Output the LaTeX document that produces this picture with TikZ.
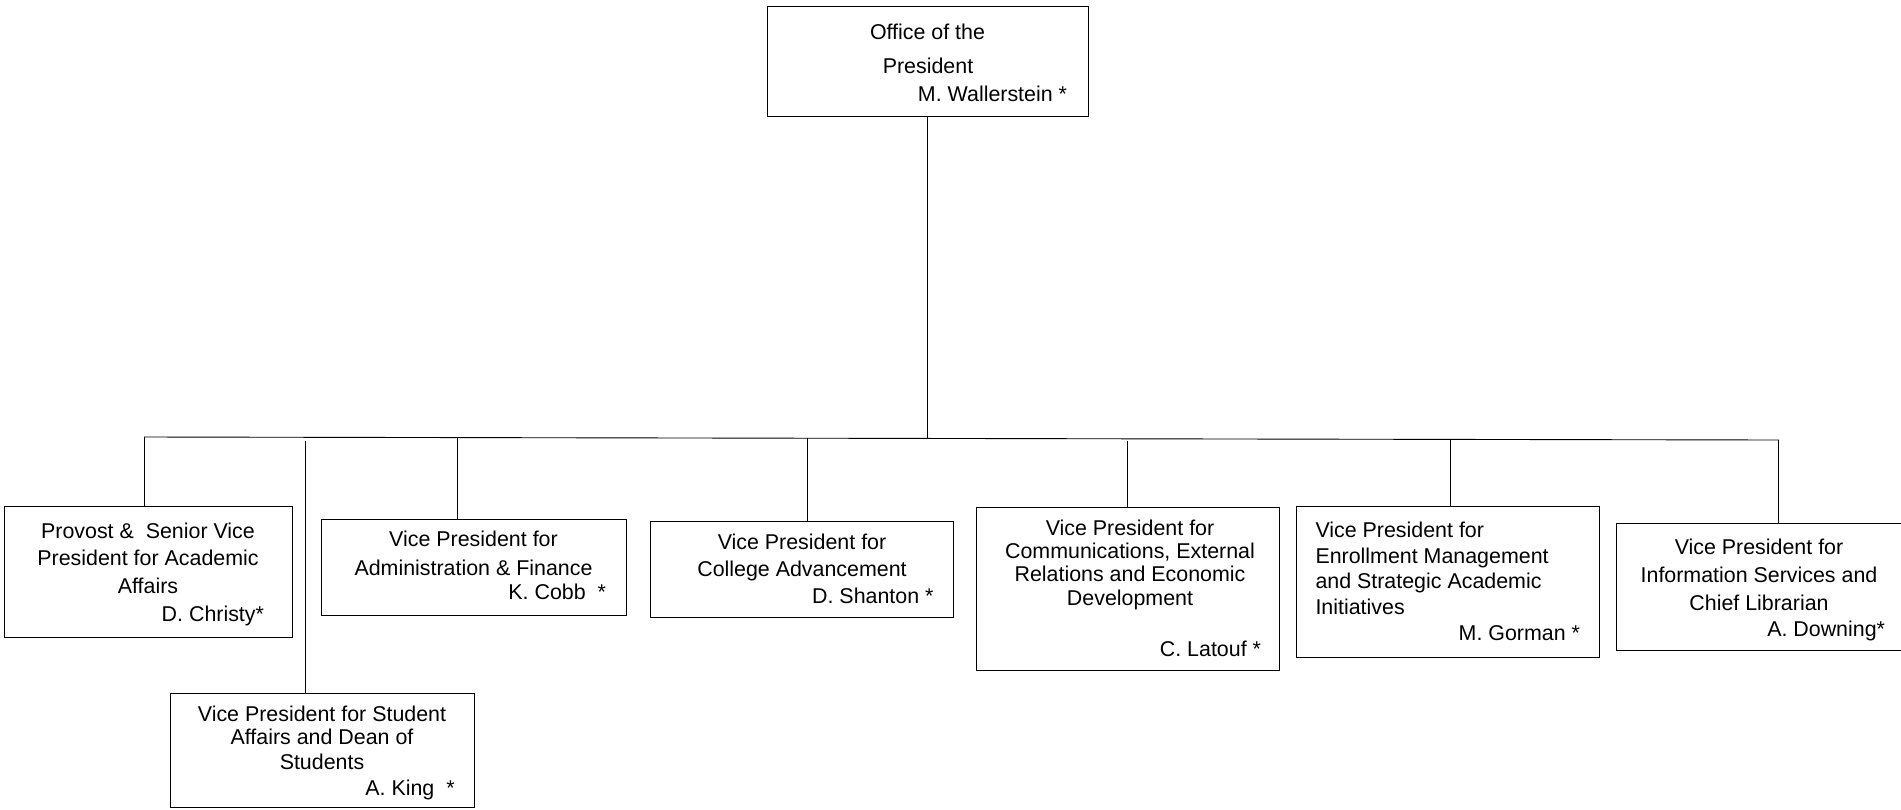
\documentclass[tikz,border=0pt]{standalone}
\usepackage{fontspec}
\setmainfont{Liberation Sans}
\begin{document}
\begin{tikzpicture}[x=1pt,y=-1pt,
 box/.style={draw, line width=0.95pt, inner sep=0pt, outer sep=0pt, anchor=north west},
 txt/.style={inner sep=0pt, outer sep=0pt, font=\fontsize{21.4}{26}\selectfont},
 ln/.style={line width=0.9pt}]
\clip (0,0) rectangle (1901,809);
% boxes
\node[box, minimum width=321pt, minimum height=110pt] (pres) at (767,6) {};
\node[box, minimum width=288pt, minimum height=131pt] (prov) at (4,506) {};
\node[box, minimum width=305pt, minimum height=96pt] (adm) at (321,519) {};
\node[box, minimum width=303pt, minimum height=96pt] (adv) at (650,521) {};
\node[box, minimum width=303pt, minimum height=163pt] (com) at (976,507) {};
\node[box, minimum width=303pt, minimum height=151pt] (enr) at (1296,506) {};
\node[box, minimum width=330pt, minimum height=127pt] (inf) at (1616,523) {};
\node[box, minimum width=304pt, minimum height=114pt] (kng) at (170,693) {};
% texts
\node[txt, anchor=base] (p1) at (927.5,39) {Office of the};
\node[txt, anchor=base] (p2) at (928,73) {President};
\node[txt, anchor=base east] (p3) at (1067,101) {M. Wallerstein *};

\node[txt, anchor=base] (v1) at (148,538.5) {Provost \&\ \ Senior Vice};
\node[txt, anchor=base] (v2) at (148,565) {President for Academic};
\node[txt, anchor=base] (v3) at (148,593) {Affairs};
\node[txt, anchor=base east] (v4) at (264,621) {D. Christy*};

\node[txt, anchor=base] (a1) at (473.5,546) {Vice President for};
\node[txt, anchor=base] (a2) at (473.5,575) {Administration \& Finance};
\node[txt, anchor=base east] (a3) at (606,599) {K. Cobb\ \ *};

\node[txt, anchor=base] (c1) at (802,549.5) {Vice President for};
\node[txt, anchor=base] (c2) at (802,576) {College Advancement};
\node[txt, anchor=base east] (c3) at (933.5,603) {D. Shanton *};

\node[txt, anchor=base] (m1) at (1130,535) {Vice President for};
\node[txt, anchor=base] (m2) at (1130,558) {Communications, External};
\node[txt, anchor=base] (m3) at (1130,581) {Relations and Economic};
\node[txt, anchor=base] (m4) at (1130,605) {Development};
\node[txt, anchor=base east] (m5) at (1261,656) {C. Latouf *};

\node[txt, anchor=base west] (e1) at (1315.5,537) {Vice President for};
\node[txt, anchor=base west] (e2) at (1315.5,563) {Enrollment Management};
\node[txt, anchor=base west] (e3) at (1315.5,588) {and Strategic Academic};
\node[txt, anchor=base west] (e4) at (1315.5,614) {Initiatives};
\node[txt, anchor=base east] (e5) at (1580,640) {M. Gorman *};

\node[txt, anchor=base] (i1) at (1759,554) {Vice President for};
\node[txt, anchor=base] (i2) at (1759,582) {Information Services and};
\node[txt, anchor=base] (i3) at (1759,610) {Chief Librarian};
\node[txt, anchor=base east] (i4) at (1885,636) {A. Downing*};

\node[txt, anchor=base] (k1) at (322,721.5) {Vice President for Student};
\node[txt, anchor=base] (k2) at (322,744.5) {Affairs and Dean of};
\node[txt, anchor=base] (k3) at (322,769) {Students};
\node[txt, anchor=base east] (k4) at (454.6,795.5) {A. King\ \ *};

% connectors
\coordinate (busL) at (144,437);
\coordinate (busR) at (1779,440);
\coordinate (busM) at (927.5,438.4);
\draw[ln] (pres.south) -- (busM);
\draw[ln] (busL) -- (busR);
\coordinate (d1) at (144,437);
\coordinate (d2) at (305.5,441);
\coordinate (d3) at (457,437.6);
\coordinate (d4) at (807.5,438.2);
\coordinate (d5) at (1127.5,441);
\coordinate (d6) at (1450,439.4);
\coordinate (d7) at (1778.6,440);
\draw[ln] (d1) -- (d1 |- prov.north);
\draw[ln] (d2) -- (d2 |- kng.north);
\draw[ln] (d3) -- (d3 |- adm.north);
\draw[ln] (d4) -- (d4 |- adv.north);
\draw[ln] (d5) -- (d5 |- com.north);
\draw[ln] (d6) -- (d6 |- enr.north);
\draw[ln] (d7) -- (d7 |- inf.north);
\end{tikzpicture}
\end{document}
